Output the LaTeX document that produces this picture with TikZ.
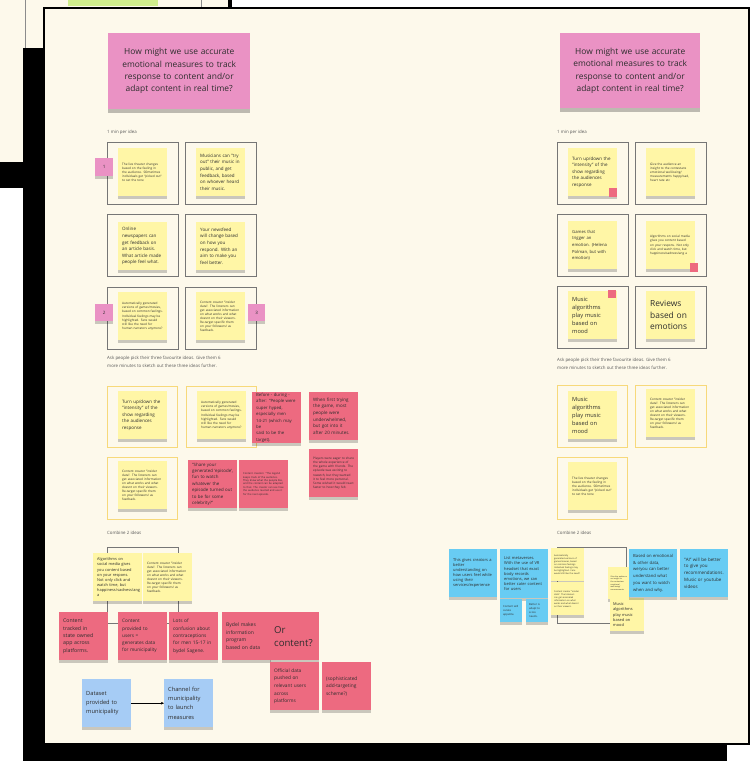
\documentclass[tikz,border=0pt]{standalone}
\usepackage{fontspec}
\setmainfont{Open Sans}
\usetikzlibrary{shadows,arrows.meta}
\definecolor{board}{RGB}{253,249,235}
\definecolor{yel}{RGB}{255,246,166}
\definecolor{pnk}{RGB}{234,146,196}
\definecolor{stred}{RGB}{237,106,128}
\definecolor{blu}{RGB}{166,204,245}
\definecolor{cyn}{RGB}{104,204,243}
\definecolor{frmc}{RGB}{118,118,118}
\definecolor{yfrmc}{RGB}{247,217,122}
\definecolor{grn}{RGB}{208,238,140}
\definecolor{ink}{RGB}{45,45,45}
\hyphenpenalty=10000
\exhyphenpenalty=10000
\newcommand{\sztitle}{\fontsize{8.4}{12.3}\selectfont}
\newcommand{\szlabel}{\fontsize{4.4}{8.3}\selectfont}
\newcommand{\szreg}{\fontsize{4.5}{6.6}\selectfont}
\newcommand{\sztiny}{\fontsize{3.1}{4.1}\selectfont}
\newcommand{\szmini}{\fontsize{2.6}{3.4}\selectfont}
\newcommand{\szsm}{\fontsize{3.9}{5.1}\selectfont}
\newcommand{\szcy}{\fontsize{4.0}{5.1}\selectfont}
\newcommand{\szred}{\fontsize{5.2}{7.4}\selectfont}
\newcommand{\szblue}{\fontsize{5.7}{9.2}\selectfont}
\newcommand{\szmusic}{\fontsize{5.7}{8.0}\selectfont}
\newcommand{\szrev}{\fontsize{8.4}{11.7}\selectfont}
\newcommand{\szor}{\fontsize{9.6}{13}\selectfont}
\tikzset{
  sh/.style={drop shadow={shadow xshift=0pt,shadow yshift=-3pt,opacity=0.2,fill=black}},
  base/.style={anchor=north west,inner xsep=4pt,inner ysep=1pt,align=left,text=ink,
    minimum width=49pt,minimum height=48pt,text width=41pt},
  ys/.style={base,sh,fill=yel},
  rs/.style={base,sh,fill=stred},
  bs/.style={base,sh,fill=blu},
  cs/.style={base,sh,fill=cyn},
  frm/.style={anchor=north west,draw=frmc,line width=0.9pt,minimum width=71pt,minimum height=62pt,inner sep=0pt},
  yfrm/.style={anchor=north west,draw=yfrmc,line width=1pt,minimum width=70pt,minimum height=61pt,inner sep=0pt},
  num/.style={anchor=north west,sh,fill=pnk,minimum width=18pt,minimum height=17pt,inner sep=0pt,font=\fontsize{4.5}{5}\selectfont,text=ink},
  dot/.style={anchor=north west,fill=stred,minimum width=8pt,minimum height=9pt,inner sep=0pt},
  lbl/.style={anchor=west,inner sep=0pt,font=\szlabel,text=black!65},
  ttl/.style={anchor=north west,drop shadow={shadow xshift=0pt,shadow yshift=-4pt,opacity=0.25,fill=black},
    fill=pnk,align=center,text=ink,font=\sztitle,minimum width=142pt,minimum height=76pt,text width=136pt,inner sep=0pt},
  reg/.style={font=\szreg},
  tny/.style={font=\sztiny},
  mini/.style={font=\szmini},
  smf/.style={font=\szsm},
  cyf/.style={font=\szcy},
  redf/.style={font=\szred},
  bluef/.style={font=\szblue},
  musf/.style={font=\szmusic},
  arr/.style={-{Stealth[length=3pt,width=2.6pt]},line width=0.5pt,black}
}
\begin{document}
\begin{tikzpicture}[x=1pt,y=-1pt]
\useasboundingbox (0,0) rectangle (752,761);
% background layers
\fill[white] (0,0) rectangle (752,761);
\fill[board] (0,0) rectangle (230,162);
\fill[black] (228,0) rectangle (232,10);
\fill[grn] (68,0) rectangle (158,6);
\draw[black!45,line width=0.6pt] (25,0) -- (25,48);
\draw[black!45,line width=0.6pt] (201,0) -- (201,8);
\fill[black] (0,162) rectangle (45,188);
\fill[black] (23,48) rectangle (727,761);
\filldraw[fill=board,draw=black,line width=1.5pt] (44,8) rectangle (749,744);

% ===== LEFT COLUMN =====
\node[ttl] (tl) at (108,33) {How might we use accurate\\emotional measures to track\\response to content and/or\\adapt content in real time?};
\node[lbl] (lmin) at (107,132) {1 min per idea};

\node[frm] (lf1) at (107,142) {};
\node[frm] (lf2) at (185,142) {};
\node[frm] (lf3) at (107,214) {};
\node[frm] (lf4) at (185,214) {};
\node[frm] (lf5) at (107,287) {};
\node[frm] (lf6) at (185,287) {};

\node[ys,tny] (l1) at (118,148) {The live theater changes based on the feeling in the audience. SOmetimes individuals get "picked out" to set the tone};
\node[ys,reg] (l2) at (196,148) {Musicians can "try\\out" their music in\\public, and get\\feedback, based\\on whoever heard\\their music.};
\node[ys,reg] (l3) at (118,222) {Online\\newspapers can\\get feedback on\\an article basis.\\What article made\\people feel what.};
\node[ys,reg] (l4) at (196,222) {Your newsfeed\\will change based\\on how you\\respond. With an\\aim to make you\\feel better.};
\node[ys,tny] (l5) at (118,292) {Automatically generated versions of games/movies, based on common feelings. Individual feelings may be highlighted. Fans would still like the need for human narrators anymore?};
\node[ys,tny] (l6) at (196,292) {Content creator "insider data". The listeners can get associated information on what works and what doesnt on their viewers. Re-target specific them on your followers/ as feedback.};

\node[num,minimum height=18pt] (n1) at (95,158) {1};
\node[num] (n2) at (95,304) {2};
\node[num,minimum width=17pt] (n3) at (248,304) {3};

\node[anchor=north west,inner sep=0pt,align=left,font=\szlabel,text=black!65] (lask) at (107,356) {Ask people pick their three favourite ideas. Give them 6\\more minutes to sketch out these three ideas further.};

\node[yfrm] (lyf1) at (107,386) {};
\node[yfrm] (lyf2) at (186,386) {};
\node[yfrm,minimum height=62pt] (lyf3) at (107,457) {};

\node[ys,reg] (m1) at (118,391) {Turn up/down the\\"intensity" of the\\show regarding\\the audiences\\response};
\node[ys,tny] (m2) at (197,391) {Automatically generated versions of games/movies, based on common feelings. Individual feelings may be highlighted. Fans would still like the need for human narrators anymore?};
\node[rs,font=\fontsize{4.3}{6.4}\selectfont] (m3) at (252,392) {Before - during -\\after: "People were\\super hyped,\\especially men\\14-21 (which may be\\said to be the\\target).};
\node[rs,font=\fontsize{4.5}{6.6}\selectfont] (m4) at (309,392) {When first trying\\the game, most\\people were\\underwhelmed,\\but got into it\\after 20 minutes.};
\node[rs,tny] (m5) at (309,449) {Players were eager to share the whole experience of the game with friends. The episode was exciting to rewatch, but they wanted it to feel more personal. Some wished it would react faster to how they felt.};
\node[ys,tny] (m6) at (118,461) {Content creator "insider data". The listeners can get associated information on what works and what doesnt on their viewers. Re-target specific them on your followers/ as feedback.};
\node[rs,font=\fontsize{4.4}{6.4}\selectfont] (m7) at (188,460) {"Share your\\generated 'episode',\\fun to watch\\whatever the\\episode turned out\\to be for some\\celebrity?"};
\node[rs,mini] (m8) at (239,460) {Content creators: "The legend keeps track of the audience. They know what the people like, and the content can be adapted to that. The creator can see how the audience reacted and use it for the next episode.};

\node[lbl] (lcomb) at (107,533) {Combine 2 ideas};
\node[frm,minimum height=76pt] (lcf) at (107,547) {};
\node[ys,smf] (ca) at (93,553) {Algorithms on social media gives you content based on your respons. Not only click and watch time, but happiness/sadness/ang a};
\node[ys,tny] (cb) at (143,553) {Content creator "insider data". The listeners can get associated information on what works and what doesnt on their viewers. Re-target specific them on your followers/ as feedback.};

\node[rs,redf] (c1) at (59,612) {Content\\tracked in\\state owned\\app across\\platforms.};
\node[rs,font=\fontsize{4.7}{7.2}\selectfont] (c2) at (118,612) {Content\\provided to\\users =\\generates data\\for municipality};
\node[rs,font=\fontsize{4.8}{7.3}\selectfont] (c3) at (169,612) {Lots of\\confusion about\\contraceptions\\for men 15-17 in\\bydel Sagene.};
\node[rs,font=\fontsize{5.0}{7.4}\selectfont] (c4) at (222,612) {Bydel makes\\information\\program\\based on data};
\node[rs,font=\szor] (c5) at (270,612) {Or\\content?};
\node[rs,font=\fontsize{4.8}{7.6}\selectfont] (c6) at (270,662) {Official data\\pushed on\\relevant users\\across\\platforms};
\node[rs,font=\fontsize{4.8}{7.6}\selectfont] (c7) at (322,662) {(sophisticated\\add-targeting\\scheme?)};

\node[bs,bluef] (d1) at (82,679) {Dataset\\provided to\\municipality};
\node[bs,bluef] (d2) at (164,679) {Channel for\\municipality\\to launch\\measures};
\draw[arr] (d1) -- (d2);

% ===== RIGHT COLUMN =====
\node[ttl,minimum width=140pt,minimum height=75pt] (tr) at (560,33) {How might we use accurate\\emotional measures to track\\response to content and/or\\adapt content in real time?};
\node[lbl] (rmin) at (557,132) {1 min per idea};

\node[frm] (rf1) at (557,142) {};
\node[frm] (rf2) at (635,142) {};
\node[frm] (rf3) at (557,214) {};
\node[frm] (rf4) at (635,214) {};
\node[frm] (rf5) at (557,286) {};
\node[frm] (rf6) at (635,286) {};

\node[ys,reg] (r1) at (568,148) {Turn up/down the\\"intensity" of the\\show regarding\\the audiences\\response};
\node[ys,tny] (r2) at (646,148) {Give the audience an insight to the contestans emotional well-being/ measurements happy/sad, heart rate etc};
\node[ys,font=\fontsize{4.2}{6.6}\selectfont] (r3) at (568,221) {Games that\\trigger an\\emotion. (Helena\\Polman, but with\\emotion)};
\node[ys,tny] (r4) at (646,221) {Algorithms on social media gives you content based on your respons. Not only click and watch time, but happiness/sadness/ang a};
\node[ys,musf] (r5) at (568,291) {Music\\algorithms\\play music\\based on\\mood};
\node[ys,font=\szrev] (r6) at (646,291) {Reviews\\based on\\emotions};
\node[dot] (rd1) at (609,188) {};
\node[dot] (rd2) at (690,263) {};
\node[dot,minimum height=8pt] (rd3) at (608,290) {};

\node[anchor=north west,inner sep=0pt,align=left,font=\szlabel,text=black!65] (rask) at (557,358) {Ask people pick their three favourite ideas. Give them 6\\more minutes to sketch out these three ideas further.};

\node[yfrm,minimum height=62pt] (ryf1) at (557,385) {};
\node[yfrm,minimum width=71pt,minimum height=62pt] (ryf2) at (635,385) {};
\node[yfrm,minimum height=62pt] (ryf3) at (557,457) {};
\node[ys,musf] (s1) at (568,391) {Music\\algorithms\\play music\\based on\\mood};
\node[ys,tny] (s2) at (646,389) {Content creator "insider data". The listeners can get associated information on what works and what doesnt on their viewers. Re-target specific them on your followers/ as feedback.};
\node[ys,tny] (s3) at (568,462) {The live theater changes based on the feeling in the audience. SOmetimes individuals get "picked out" to set the tone};

\node[lbl] (rcomb) at (557,533) {Combine 2 ideas};
\node[frm,minimum width=69pt,minimum height=76pt] (rcf) at (557,547) {};

\node[cs,cyf,minimum width=48pt,text width=40pt] (e1) at (449,549) {This gives creators a\\better\\understanding on\\how users feel while\\using their\\services/experience};
\node[cs,cyf,minimum width=48pt,minimum height=49pt,text width=40pt] (e2) at (500,549) {List metaverses.\\With the use of VR\\headset that exact\\body records\\emotions, we can\\better cater content\\for users};
\node[cs,font=\fontsize{2.7}{3.8}\selectfont,minimum width=22pt,minimum height=23pt,text width=16pt,inner xsep=3pt] (e3) at (500,599) {Content will\\curate\\appetite.};
\node[cs,font=\fontsize{2.7}{3.8}\selectfont,minimum width=22pt,minimum height=23pt,text width=16pt,inner xsep=3pt] (e4) at (526,599) {Better is\\adapt to\\score\\needs.};

\node[ys,font=\fontsize{2.2}{3.0}\selectfont,minimum width=33pt,minimum height=33pt,text width=27pt,inner xsep=3pt] (y1) at (551,548) {Automatically generated versions of games/movies, based on common feelings. Individual feelings may be highlighted. Fans would still like the need?};
\node[ys,font=\fontsize{2.2}{3.0}\selectfont,minimum width=33pt,minimum height=33pt,text width=27pt,inner xsep=3pt] (y2) at (551,582) {Content creator "insider data". The listeners can get associated information on what works and what doesnt on their viewers.};
\node[ys,font=\fontsize{1.9}{2.7}\selectfont,minimum width=22pt,minimum height=32pt,text width=17pt,inner xsep=2.5pt] (y3) at (608,567) {Give the audience an insight to the contestans emotional well-being/ measurements};
\node[ys,font=\fontsize{3.9}{5.3}\selectfont,minimum width=34pt,minimum height=33pt,text width=28pt,inner xsep=3pt] (y4) at (610,598) {Music\\algorithms\\play music\\based on\\mood};

\node[cs,font=\fontsize{4.2}{6.8}\selectfont,minimum width=48pt,text width=40pt] (e5) at (629,549) {Based on emotional\\\& other data,\\we/you can better\\understand what\\you want to watch\\when and why.};
\node[cs,font=\fontsize{4.5}{6.9}\selectfont,minimum width=48pt,text width=40pt] (e6) at (680,549) {"AI" will be better\\to give you\\recommendations.\\Music or youtube\\videos};
\end{tikzpicture}
\end{document}
